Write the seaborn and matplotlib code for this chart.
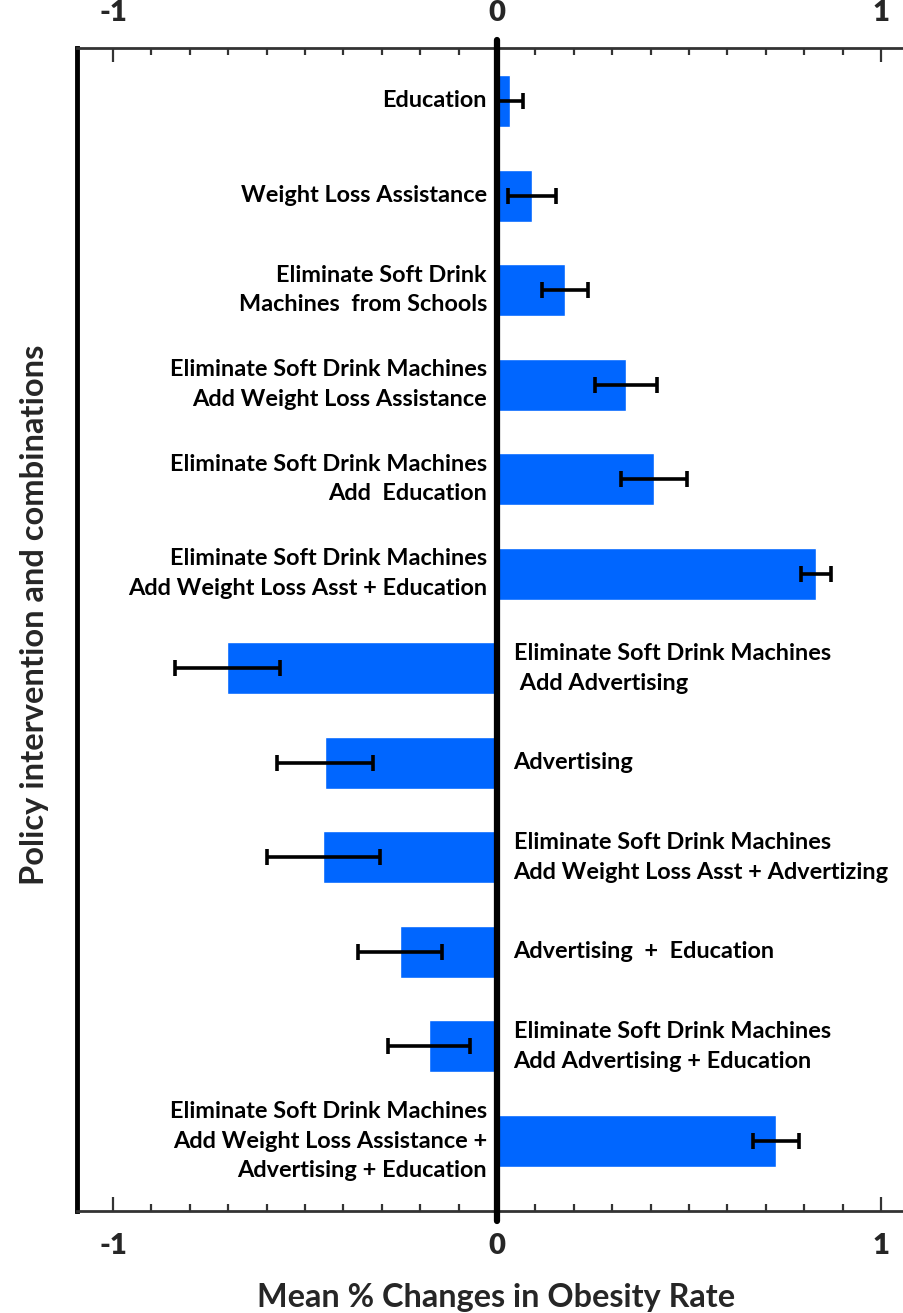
import matplotlib
matplotlib.use("Agg")
import matplotlib.pyplot as plt
import seaborn as sns
import pandas as pd
import numpy as np
from matplotlib.ticker import MultipleLocator, FixedLocator

# ---- data ----
labels = [
    "Education",
    "Weight Loss Assistance",
    "Eliminate Soft Drink\nMachines  from Schools",
    "Eliminate Soft Drink Machines\nAdd Weight Loss Assistance",
    "Eliminate Soft Drink Machines\nAdd  Education",
    "Eliminate Soft Drink Machines\nAdd Weight Loss Asst + Education",
    "Eliminate Soft Drink Machines\n Add Advertising",
    "Advertising",
    "Eliminate Soft Drink Machines\nAdd Weight Loss Asst + Advertizing",
    "Advertising  +  Education",
    "Eliminate Soft Drink Machines\nAdd Advertising + Education",
    "Eliminate Soft Drink Machines\nAdd Weight Loss Assistance +\nAdvertising + Education",
]
values = [0.034, 0.091, 0.177, 0.336, 0.409, 0.831,
          -0.703, -0.448, -0.453, -0.253, -0.177, 0.726]
errors = [0.034, 0.062, 0.061, 0.081, 0.085, 0.038,
          0.137, 0.126, 0.147, 0.110, 0.107, 0.060]
x_ticks = [-1, 0, 1]
x_tick_labels = ["-1", "0", "1"]

df = pd.DataFrame({"label": labels, "value": values, "err": errors})

sns.set_style("white")
FONT = ["Lato", "DejaVu Sans"]
plt.rcParams["font.family"] = FONT
plt.rcParams["font.weight"] = "bold"

fig = plt.figure(figsize=(9.04, 13.13), dpi=100)
ax = fig.add_axes([77 / 904, 1 - 1211 / 1313, 1 - 77 / 904, (1211 - 48) / 1313])

sns.barplot(data=df, y="label", x="value", orient="h", color="#0066FF",
            saturation=1, width=0.55, errorbar=None, ax=ax, zorder=2)

ypos = np.arange(len(df))
ax.errorbar(df["value"], ypos, xerr=df["err"], fmt="none", ecolor="black",
            elinewidth=2.6, capsize=6, capthick=2.6, zorder=3)

ax.set_xlim(-1.094, 1.06)
ax.set_ylim(11.74, -0.56)

# zero line
ax.axvline(0, ymin=-0.009, ymax=1.007, color="black", lw=4.5, zorder=4,
           clip_on=False)

LAB_FS = 16.9
for i, (lab, v) in enumerate(zip(labels, values)):
    if v >= 0:
        ax.text(-0.026, i, lab, ha="right", va="center", fontsize=LAB_FS,
                fontweight="bold", linespacing=1.5, color="black")
    else:
        ax.text(0.043, i, lab, ha="left", va="center", fontsize=LAB_FS,
                fontweight="bold", linespacing=1.5, color="black")

ax.set_yticks([])
ax.set_ylabel("")
ax.xaxis.set_major_locator(FixedLocator(x_ticks))
ax.set_xticklabels(x_tick_labels, fontsize=21, fontweight="heavy")
ax.xaxis.set_minor_locator(MultipleLocator(0.1))
ax.tick_params(axis="x", which="both", direction="in", top=True, bottom=True,
               labeltop=True, labelbottom=True, color="#333333", width=1.6)
ax.tick_params(axis="x", which="major", length=10, pad=16)
ax.tick_params(axis="x", which="minor", length=5)

for s in ["top", "bottom"]:
    ax.spines[s].set_color("#333333")
    ax.spines[s].set_linewidth(2)
ax.spines["right"].set_visible(False)
ax.spines["left"].set_color("black")
ax.spines["left"].set_linewidth(3.5)

ax.set_xlabel("Mean % Changes in Obesity Rate", fontsize=23.3, fontweight="bold")
ax.xaxis.label.set_va("center")
ax.xaxis.set_label_coords(0.5066, -(1297 - 1211) / 1163)
ax.set_ylabel("Policy intervention and combinations", fontsize=23.5,
              fontweight="bold")
ax.yaxis.label.set_va("center")
ax.yaxis.set_label_coords(-(77 - 35) / 827, (1211 - 615) / 1163)

fig.savefig("out.png", dpi=100)
